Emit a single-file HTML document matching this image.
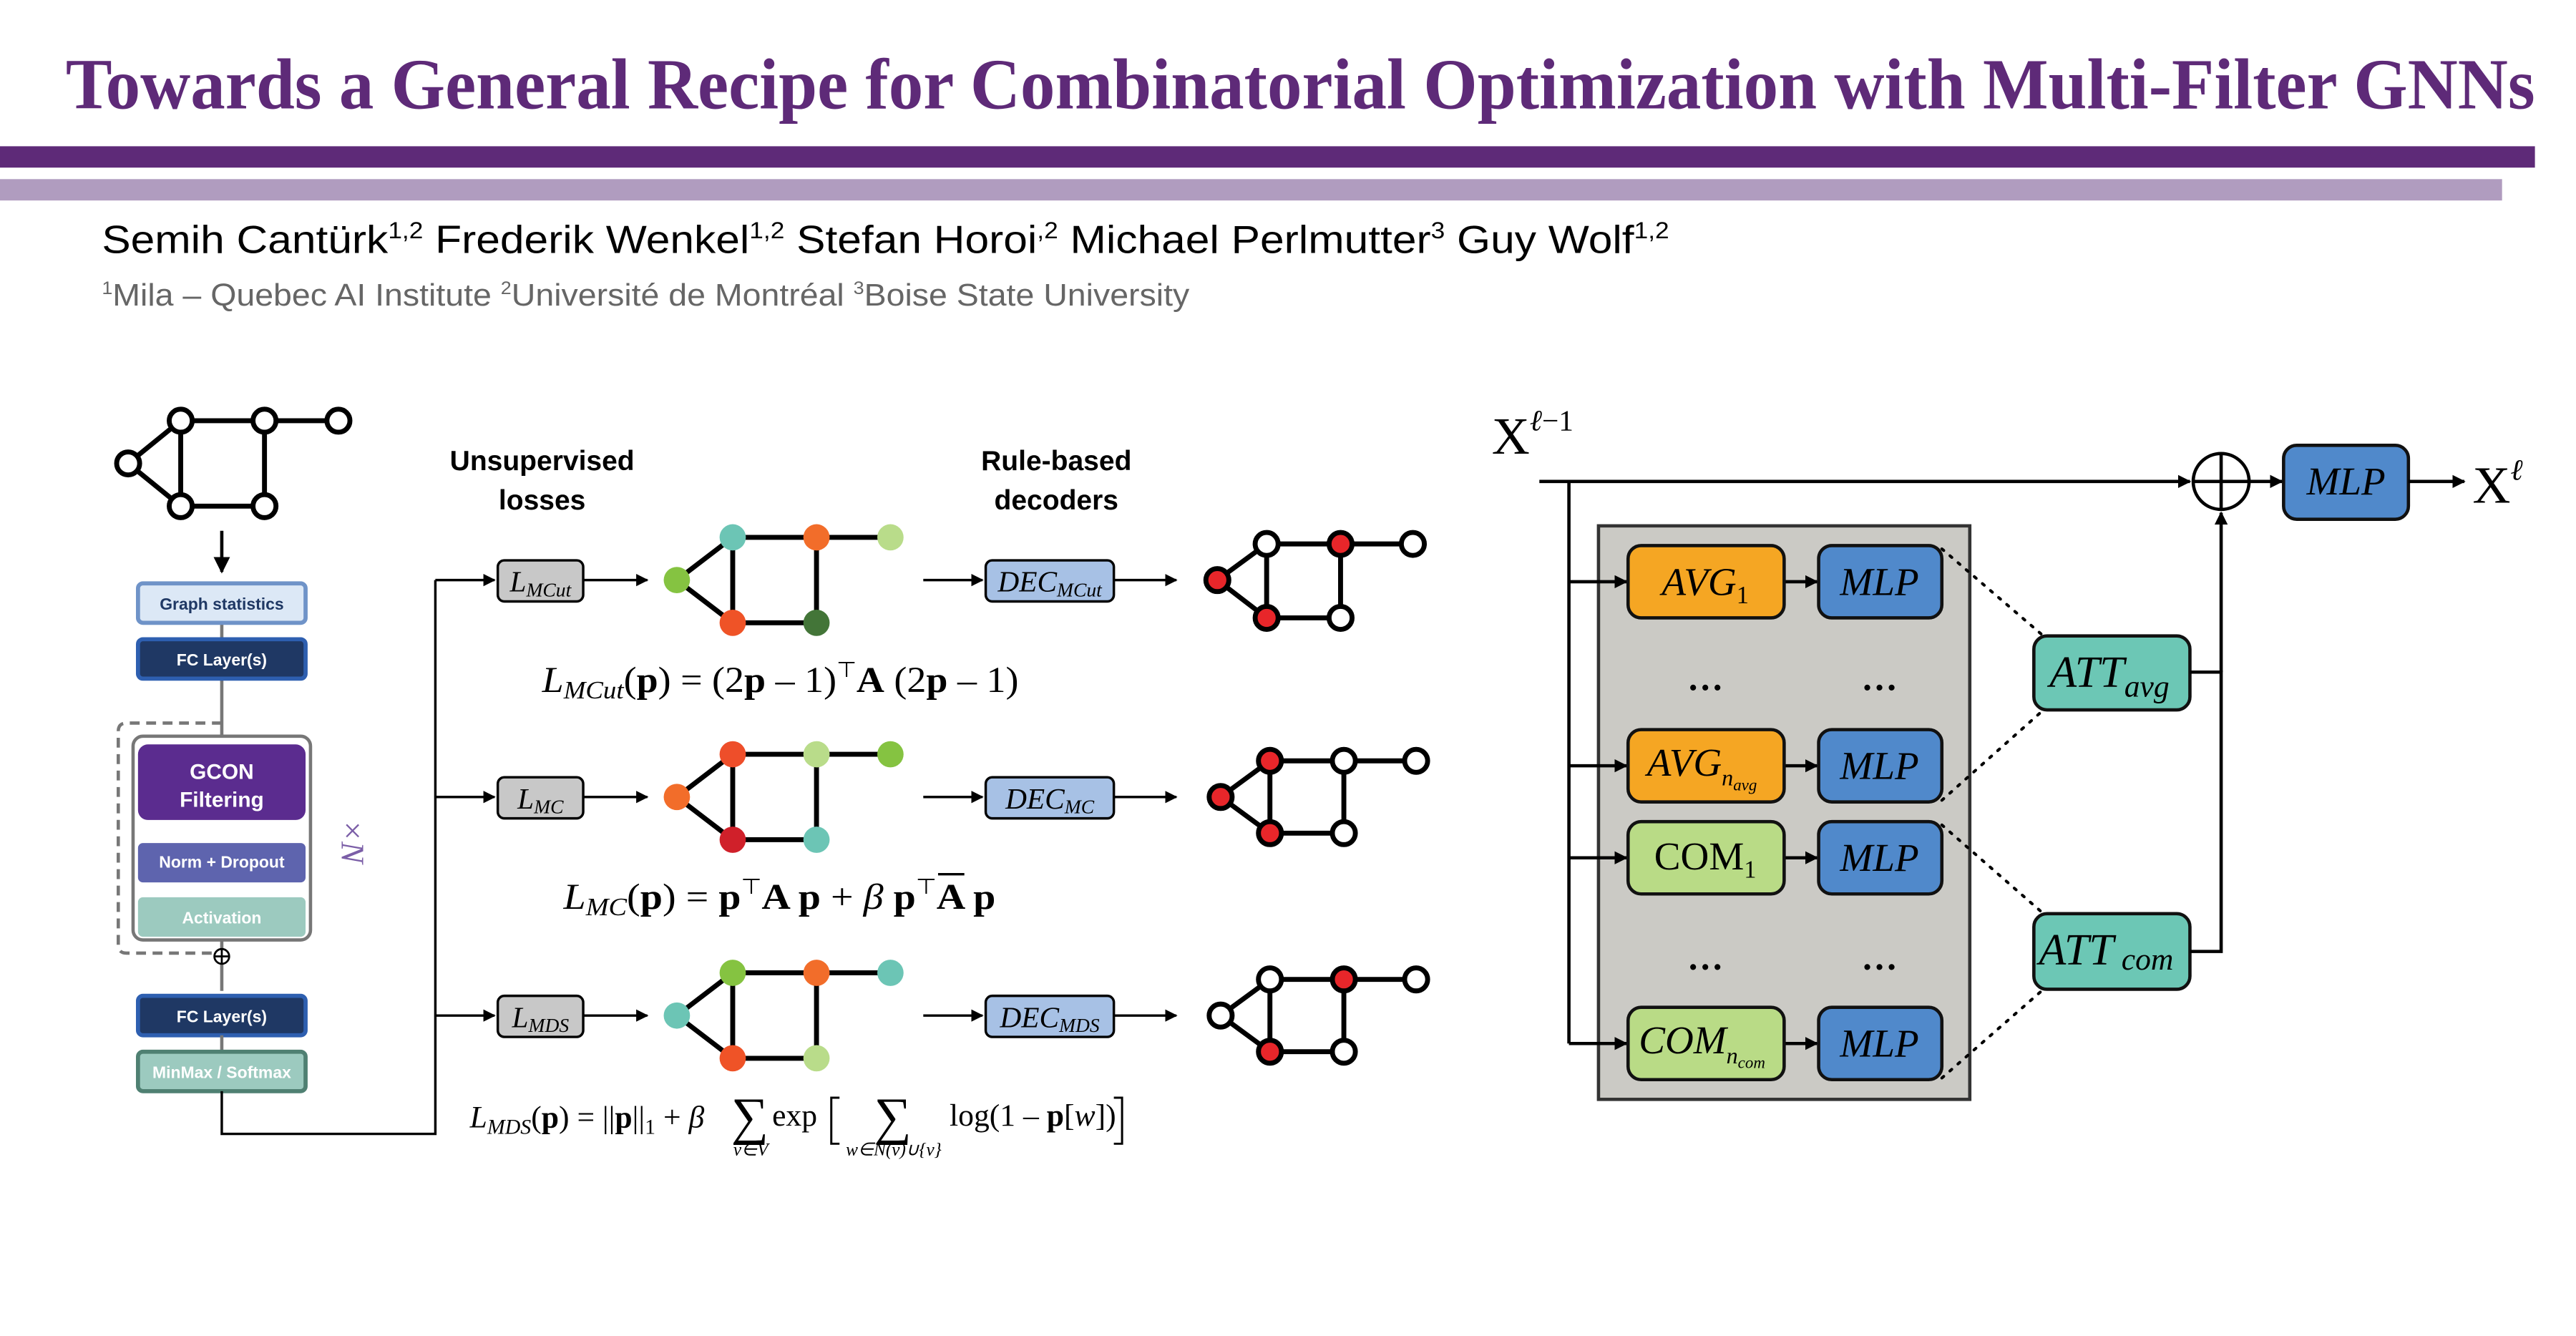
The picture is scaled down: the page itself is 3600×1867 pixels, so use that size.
<!DOCTYPE html>
<html><head><meta charset="utf-8"><style>
html,body{margin:0;padding:0;background:#fff;}
svg{display:block;}
.sans{font-family:"Liberation Sans",sans-serif;}
.serif{font-family:"Liberation Serif",serif;}
</style></head><body>
<svg width="3600" height="1867" viewBox="0 0 1568 813" preserveAspectRatio="none" xmlns="http://www.w3.org/2000/svg">
<defs>
<marker id="ar" viewBox="0 0 10 10" refX="9" refY="5" markerWidth="5" markerHeight="5" orient="auto"><path d="M0,0 L10,5 L0,10 z" fill="#000"/></marker>
<marker id="ars" viewBox="0 0 10 10" refX="9" refY="5" markerWidth="4" markerHeight="4" orient="auto"><path d="M0,0 L10,5 L0,10 z" fill="#000"/></marker>
</defs>
<rect width="1568" height="813" fill="#fff"/>
<!-- Title -->
<text x="40" y="66" class="serif" font-size="44" font-weight="bold" fill="#5e2a78" textLength="1503" lengthAdjust="spacingAndGlyphs">Towards a General Recipe for Combinatorial Optimization with Multi-Filter GNNs</text>
<rect x="0" y="89" width="1543" height="13" fill="#5e2a78"/>
<rect x="0" y="109" width="1523" height="13" fill="#b09cbf"/>
<text x="62" y="154" class="sans" font-size="24" fill="#000" textLength="954" lengthAdjust="spacingAndGlyphs">Semih Cantürk<tspan font-size="14" dy="-9">1,2</tspan><tspan dy="9">  Frederik Wenkel</tspan><tspan font-size="14" dy="-9">1,2</tspan><tspan dy="9">  Stefan Horoi</tspan><tspan font-size="14" dy="-9">,2</tspan><tspan dy="9">  Michael Perlmutter</tspan><tspan font-size="14" dy="-9">3</tspan><tspan dy="9">  Guy Wolf</tspan><tspan font-size="14" dy="-9">1,2</tspan></text>
<text x="62" y="186" class="sans" font-size="19" fill="#666" textLength="662" lengthAdjust="spacingAndGlyphs"><tspan font-size="11" dy="-7">1</tspan><tspan dy="7">Mila – Quebec AI Institute   </tspan><tspan font-size="11" dy="-7">2</tspan><tspan dy="7">Université de Montréal   </tspan><tspan font-size="11" dy="-7">3</tspan><tspan dy="7">Boise State University</tspan></text>

<!-- Left input graph -->
<g stroke="#000" stroke-width="3" fill="#fff">
<line x1="78" y1="282" x2="110" y2="256"/><line x1="78" y1="282" x2="110" y2="308"/>
<line x1="110" y1="256" x2="206" y2="256"/><line x1="110" y1="308" x2="161" y2="308"/>
<line x1="110" y1="256" x2="110" y2="308"/><line x1="161" y1="256" x2="161" y2="308"/>
<circle cx="78" cy="282" r="7"/><circle cx="110" cy="256" r="7"/><circle cx="110" cy="308" r="7"/>
<circle cx="161" cy="256" r="7"/><circle cx="161" cy="308" r="7"/><circle cx="206" cy="256" r="7"/>
</g>
<line x1="135" y1="323" x2="135" y2="348" stroke="#000" stroke-width="2" marker-end="url(#ar)"/>

<!-- left pipeline -->
<line x1="135" y1="379" x2="135" y2="603" stroke="#777" stroke-width="2"/>
<rect x="84" y="355" width="102" height="24" rx="3" fill="#dce8f6" stroke="#6f93c8" stroke-width="2.5"/>
<text x="135" y="371" text-anchor="middle" class="sans" font-size="10" font-weight="bold" fill="#1f3864">Graph statistics</text>
<rect x="84" y="389" width="102" height="24" rx="3" fill="#1f3864" stroke="#2e5fb0" stroke-width="2.5"/>
<text x="135" y="405" text-anchor="middle" class="sans" font-size="10" font-weight="bold" fill="#fff">FC Layer(s)</text>
<path d="M135,440 H77 Q72,440 72,445 V575 Q72,580 77,580 H135" fill="none" stroke="#777" stroke-width="2" stroke-dasharray="6,4"/>
<rect x="81" y="448" width="108" height="124" rx="6" fill="#fff" stroke="#777" stroke-width="2"/>
<rect x="84" y="453" width="102" height="46" rx="6" fill="#5b2c8f"/>
<text x="135" y="474" text-anchor="middle" class="sans" font-size="13" font-weight="bold" fill="#fff">GCON</text>
<text x="135" y="491" text-anchor="middle" class="sans" font-size="13" font-weight="bold" fill="#fff">Filtering</text>
<rect x="84" y="513" width="102" height="24" rx="3" fill="#5e64ae"/>
<text x="135" y="528" text-anchor="middle" class="sans" font-size="10" font-weight="bold" fill="#fff">Norm + Dropout</text>
<rect x="84" y="546" width="102" height="24" rx="3" fill="#9ccabf"/>
<text x="135" y="562" text-anchor="middle" class="sans" font-size="10" font-weight="bold" fill="#fff">Activation</text>
<circle cx="135" cy="582" r="4.5" fill="#fff" stroke="#000" stroke-width="1.2"/>
<line x1="130.5" y1="582" x2="139.5" y2="582" stroke="#000" stroke-width="1.2"/><line x1="135" y1="577.5" x2="135" y2="586.5" stroke="#000" stroke-width="1.2"/>
<text transform="translate(208,512) rotate(90)" text-anchor="middle" class="serif" font-size="20" font-style="italic" fill="#7b5ea7">×N</text>
<rect x="84" y="606" width="102" height="24" rx="3" fill="#1f3864" stroke="#2e5fb0" stroke-width="2.5"/>
<text x="135" y="622" text-anchor="middle" class="sans" font-size="10" font-weight="bold" fill="#fff">FC Layer(s)</text>
<line x1="135" y1="630" x2="135" y2="640" stroke="#777" stroke-width="2"/>
<rect x="84" y="640" width="102" height="24" rx="3" fill="#9ccabf" stroke="#4f8072" stroke-width="2.5"/>
<text x="135" y="656" text-anchor="middle" class="sans" font-size="10" font-weight="bold" fill="#fff">MinMax / Softmax</text>
<polyline points="135,664 135,690 265,690 265,353" fill="none" stroke="#000" stroke-width="1.5"/>

<!-- headers -->
<g class="sans" font-size="17" font-weight="bold" text-anchor="middle" fill="#000">
<text x="330" y="286">Unsupervised</text><text x="330" y="310">losses</text>
<text x="643" y="286">Rule-based</text><text x="643" y="310">decoders</text>
</g>

<!-- rows -->
<g stroke="#000" stroke-width="1.5">
<line x1="265" y1="353" x2="301" y2="353" marker-end="url(#ar)"/>
<line x1="265" y1="485" x2="301" y2="485" marker-end="url(#ar)"/>
<line x1="265" y1="618" x2="301" y2="618" marker-end="url(#ar)"/>
<line x1="355" y1="353" x2="394" y2="353" marker-end="url(#ar)"/>
<line x1="355" y1="485" x2="394" y2="485" marker-end="url(#ar)"/>
<line x1="355" y1="618" x2="394" y2="618" marker-end="url(#ar)"/>
<line x1="562" y1="353" x2="598" y2="353" marker-end="url(#ar)"/>
<line x1="562" y1="485" x2="598" y2="485" marker-end="url(#ar)"/>
<line x1="562" y1="618" x2="598" y2="618" marker-end="url(#ar)"/>
<line x1="678" y1="353" x2="716" y2="353" marker-end="url(#ar)"/>
<line x1="678" y1="485" x2="716" y2="485" marker-end="url(#ar)"/>
<line x1="678" y1="618" x2="716" y2="618" marker-end="url(#ar)"/>
</g>
<g stroke="#000" stroke-width="1.5">
<rect x="303" y="341" width="52" height="25" rx="4" fill="#c8c8c8"/>
<rect x="303" y="473" width="52" height="25" rx="4" fill="#c8c8c8"/>
<rect x="303" y="606" width="52" height="25" rx="4" fill="#c8c8c8"/>
<rect x="600" y="341" width="78" height="25" rx="4" fill="#a7c1e5"/>
<rect x="600" y="473" width="78" height="25" rx="4" fill="#a7c1e5"/>
<rect x="600" y="606" width="78" height="25" rx="4" fill="#a7c1e5"/>
</g>
<g class="serif" font-style="italic" font-size="18" fill="#000" text-anchor="middle">
<text x="329" y="360">L<tspan font-size="12" dy="3">MCut</tspan></text>
<text x="329" y="492">L<tspan font-size="12" dy="3">MC</tspan></text>
<text x="329" y="625">L<tspan font-size="12" dy="3">MDS</tspan></text>
<text x="639" y="360">DEC<tspan font-size="12" dy="3">MCut</tspan></text>
<text x="639" y="492">DEC<tspan font-size="12" dy="3">MC</tspan></text>
<text x="639" y="625">DEC<tspan font-size="12" dy="3">MDS</tspan></text>
</g>

<!-- colored graphs -->
<g stroke="#000" stroke-width="3">
<path d="M412,353 L446,327 L542,327 M412,353 L446,379 L497,379 L497,327 M446,327 L446,379" fill="none"/>
<path d="M412,485 L446,459 L542,459 M412,485 L446,511 L497,511 L497,459 M446,459 L446,511" fill="none"/>
<path d="M412,618 L446,592 L542,592 M412,618 L446,644 L497,644 L497,592 M446,592 L446,644" fill="none"/>
</g>
<g>
<circle cx="412" cy="353" r="8" fill="#85c341"/><circle cx="446" cy="327" r="8" fill="#6cc5b5"/><circle cx="446" cy="379" r="8" fill="#ef5327"/>
<circle cx="497" cy="327" r="8" fill="#f26d2a"/><circle cx="497" cy="379" r="8" fill="#437538"/><circle cx="542" cy="327" r="8" fill="#b9dc8a"/>
<circle cx="412" cy="485" r="8" fill="#f26d2a"/><circle cx="446" cy="459" r="8" fill="#ee4e2a"/><circle cx="446" cy="511" r="8" fill="#d0202a"/>
<circle cx="497" cy="459" r="8" fill="#b9dc8a"/><circle cx="497" cy="511" r="8" fill="#6cc5b5"/><circle cx="542" cy="459" r="8" fill="#85c341"/>
<circle cx="412" cy="618" r="8" fill="#6cc5b5"/><circle cx="446" cy="592" r="8" fill="#85c341"/><circle cx="446" cy="644" r="8" fill="#ef5327"/>
<circle cx="497" cy="592" r="8" fill="#f26d2a"/><circle cx="497" cy="644" r="8" fill="#b9dc8a"/><circle cx="542" cy="592" r="8" fill="#6cc5b5"/>
</g>
<!-- decoded graphs -->
<g stroke="#000" stroke-width="3" fill="none">
<path d="M741,353 L771,331 L860,331 M741,353 L771,376 L816,376 L816,331 M771,331 L771,376"/>
<path d="M743,485 L773,463 L862,463 M743,485 L773,507 L818,507 L818,463 M773,463 L773,507"/>
<path d="M743,618 L773,596 L862,596 M743,618 L773,640 L818,640 L818,596 M773,596 L773,640"/>
</g>
<g stroke="#000" stroke-width="3">
<circle cx="741" cy="353" r="7" fill="#e8262a"/><circle cx="771" cy="331" r="7" fill="#fff"/><circle cx="771" cy="376" r="7" fill="#e8262a"/>
<circle cx="816" cy="331" r="7" fill="#e8262a"/><circle cx="816" cy="376" r="7" fill="#fff"/><circle cx="860" cy="331" r="7" fill="#fff"/>
<circle cx="743" cy="485" r="7" fill="#e8262a"/><circle cx="773" cy="463" r="7" fill="#e8262a"/><circle cx="773" cy="507" r="7" fill="#e8262a"/>
<circle cx="818" cy="463" r="7" fill="#fff"/><circle cx="818" cy="507" r="7" fill="#fff"/><circle cx="862" cy="463" r="7" fill="#fff"/>
<circle cx="743" cy="618" r="7" fill="#fff"/><circle cx="773" cy="596" r="7" fill="#fff"/><circle cx="773" cy="640" r="7" fill="#e8262a"/>
<circle cx="818" cy="596" r="7" fill="#e8262a"/><circle cx="818" cy="640" r="7" fill="#fff"/><circle cx="862" cy="596" r="7" fill="#fff"/>
</g>

<!-- equations -->
<g class="serif" font-size="22" fill="#000">
<text x="330" y="421" textLength="290" lengthAdjust="spacingAndGlyphs"><tspan font-style="italic">L</tspan><tspan font-style="italic" font-size="15" dy="4">MCut</tspan><tspan dy="-4">(<tspan font-weight="bold">p</tspan>) = (2<tspan font-weight="bold">p</tspan> – 1)</tspan><tspan font-size="13" dy="-9">⊤</tspan><tspan dy="9"><tspan font-weight="bold">A</tspan> (2<tspan font-weight="bold">p</tspan> – 1)</tspan></text>
<text x="343" y="553" textLength="263" lengthAdjust="spacingAndGlyphs"><tspan font-style="italic">L</tspan><tspan font-style="italic" font-size="15" dy="4">MC</tspan><tspan dy="-4">(<tspan font-weight="bold">p</tspan>) = <tspan font-weight="bold">p</tspan></tspan><tspan font-size="13" dy="-9">⊤</tspan><tspan dy="9"><tspan font-weight="bold">A p</tspan>  +  <tspan font-style="italic">β</tspan> <tspan font-weight="bold">p</tspan></tspan><tspan font-size="13" dy="-9">⊤</tspan><tspan dy="9"><tspan font-weight="bold">A p</tspan></tspan></text>
<line x1="571" y1="532" x2="587" y2="532" stroke="#000" stroke-width="1.5"/>
<text x="286" y="686" font-size="19"><tspan font-style="italic">L</tspan><tspan font-style="italic" font-size="13" dy="4">MDS</tspan><tspan dy="-4">(<tspan font-weight="bold">p</tspan>) = ||<tspan font-weight="bold">p</tspan>||</tspan><tspan font-size="13" dy="4">1</tspan><tspan dy="-4">  +  <tspan font-style="italic">β</tspan></tspan></text>
<text x="445" y="690" font-size="32">∑</text>
<text x="470" y="685" font-size="19">exp</text>
<text x="532" y="690" font-size="32">∑</text>
<text x="578" y="685" font-size="19">log(1 – <tspan font-weight="bold">p</tspan>[<tspan font-style="italic">w</tspan>])</text>
<text x="457" y="703" font-size="11" font-style="italic" text-anchor="middle">v∈V</text>
<text x="544" y="703" font-size="11" font-style="italic" text-anchor="middle">w∈N(v)∪{v}</text>
</g>
<path d="M511,668 H506 V696 H511 M678,668 H683 V696 H678" fill="none" stroke="#000" stroke-width="1.3"/>

<!-- Right diagram -->
<text x="908" y="276" class="serif" font-size="32" fill="#000">X<tspan font-size="18" font-style="italic" dy="-14">ℓ</tspan><tspan font-size="18" dy="0">−1</tspan></text>
<line x1="937" y1="293" x2="1333" y2="293" stroke="#000" stroke-width="2" marker-end="url(#ars)"/>
<rect x="973" y="320" width="226" height="349" fill="#cbcac5" stroke="#333" stroke-width="2"/>
<polyline points="955,293 955,635" fill="none" stroke="#000" stroke-width="2"/>
<g stroke="#000" stroke-width="2">
<line x1="955" y1="354" x2="990" y2="354" marker-end="url(#ars)"/>
<line x1="955" y1="466" x2="990" y2="466" marker-end="url(#ars)"/>
<line x1="955" y1="522" x2="990" y2="522" marker-end="url(#ars)"/>
<line x1="955" y1="635" x2="990" y2="635" marker-end="url(#ars)"/>
<line x1="1086" y1="354" x2="1106" y2="354" marker-end="url(#ars)"/>
<line x1="1086" y1="466" x2="1106" y2="466" marker-end="url(#ars)"/>
<line x1="1086" y1="522" x2="1106" y2="522" marker-end="url(#ars)"/>
<line x1="1086" y1="635" x2="1106" y2="635" marker-end="url(#ars)"/>
</g>
<g stroke="#111" stroke-width="2">
<rect x="991" y="332" width="95" height="44" rx="8" fill="#f5a623"/>
<rect x="991" y="444" width="95" height="44" rx="8" fill="#f5a623"/>
<rect x="991" y="500" width="95" height="44" rx="8" fill="#b9db86"/>
<rect x="991" y="613" width="95" height="44" rx="8" fill="#b9db86"/>
<rect x="1107" y="332" width="75" height="44" rx="8" fill="#5089cb"/>
<rect x="1107" y="444" width="75" height="44" rx="8" fill="#5089cb"/>
<rect x="1107" y="500" width="75" height="44" rx="8" fill="#5089cb"/>
<rect x="1107" y="613" width="75" height="44" rx="8" fill="#5089cb"/>
<rect x="1238" y="387" width="95" height="45" rx="8" fill="#6cc7b5"/>
<rect x="1238" y="556" width="95" height="46" rx="8" fill="#6cc7b5"/>
<rect x="1390" y="271" width="76" height="45" rx="8" fill="#5089cb"/>
</g>
<g class="serif" font-style="italic" font-size="24" fill="#000" text-anchor="middle">
<text x="1038" y="362">AVG<tspan font-size="15" font-style="normal" dy="5">1</tspan></text>
<text x="1036" y="472">AVG<tspan font-size="14" dy="6">n</tspan><tspan font-size="10" dy="3">avg</tspan></text>
<text x="1038" y="529" font-style="normal">COM<tspan font-size="15" dy="5">1</tspan></text>
<text x="1036" y="641">COM<tspan font-size="14" dy="6">n</tspan><tspan font-size="10" dy="3">com</tspan></text>
<text x="1144" y="362">MLP</text><text x="1144" y="474">MLP</text><text x="1144" y="530">MLP</text><text x="1144" y="643">MLP</text>
<text x="1428" y="301">MLP</text>
<text x="1284" y="418" font-size="27">ATT<tspan font-size="19" dy="6">avg</tspan></text>
<text x="1282" y="587" font-size="27">ATT<tspan font-size="19" dy="3"> com</tspan></text>
</g>
<g class="serif" font-size="22" font-weight="bold" fill="#000" text-anchor="middle">
<text x="1038" y="420">…</text><text x="1144" y="420">…</text>
<text x="1038" y="590">…</text><text x="1144" y="590">…</text>
</g>
<g stroke="#000" stroke-width="1.8" stroke-dasharray="1.5,5" stroke-linecap="round">
<line x1="1182" y1="334" x2="1245" y2="388"/><line x1="1182" y1="487" x2="1245" y2="431"/>
<line x1="1182" y1="502" x2="1245" y2="557"/><line x1="1182" y1="656" x2="1245" y2="601"/>
</g>
<polyline points="1333,409 1352,409 1352,579 1333,579" fill="none" stroke="#000" stroke-width="2"/>
<line x1="1352" y1="409" x2="1352" y2="312" stroke="#000" stroke-width="2" marker-end="url(#ars)"/>
<circle cx="1352" cy="293" r="17" fill="#fff" stroke="#000" stroke-width="2"/>
<line x1="1335" y1="293" x2="1369" y2="293" stroke="#000" stroke-width="2"/><line x1="1352" y1="276" x2="1352" y2="310" stroke="#000" stroke-width="2"/>
<line x1="1369" y1="293" x2="1389" y2="293" stroke="#000" stroke-width="2" marker-end="url(#ars)"/>
<line x1="1466" y1="293" x2="1500" y2="293" stroke="#000" stroke-width="2" marker-end="url(#ars)"/>
<text x="1505" y="306" class="serif" font-size="32" fill="#000">X<tspan font-size="18" font-style="italic" dy="-14">ℓ</tspan></text>
</svg>
</body></html>
